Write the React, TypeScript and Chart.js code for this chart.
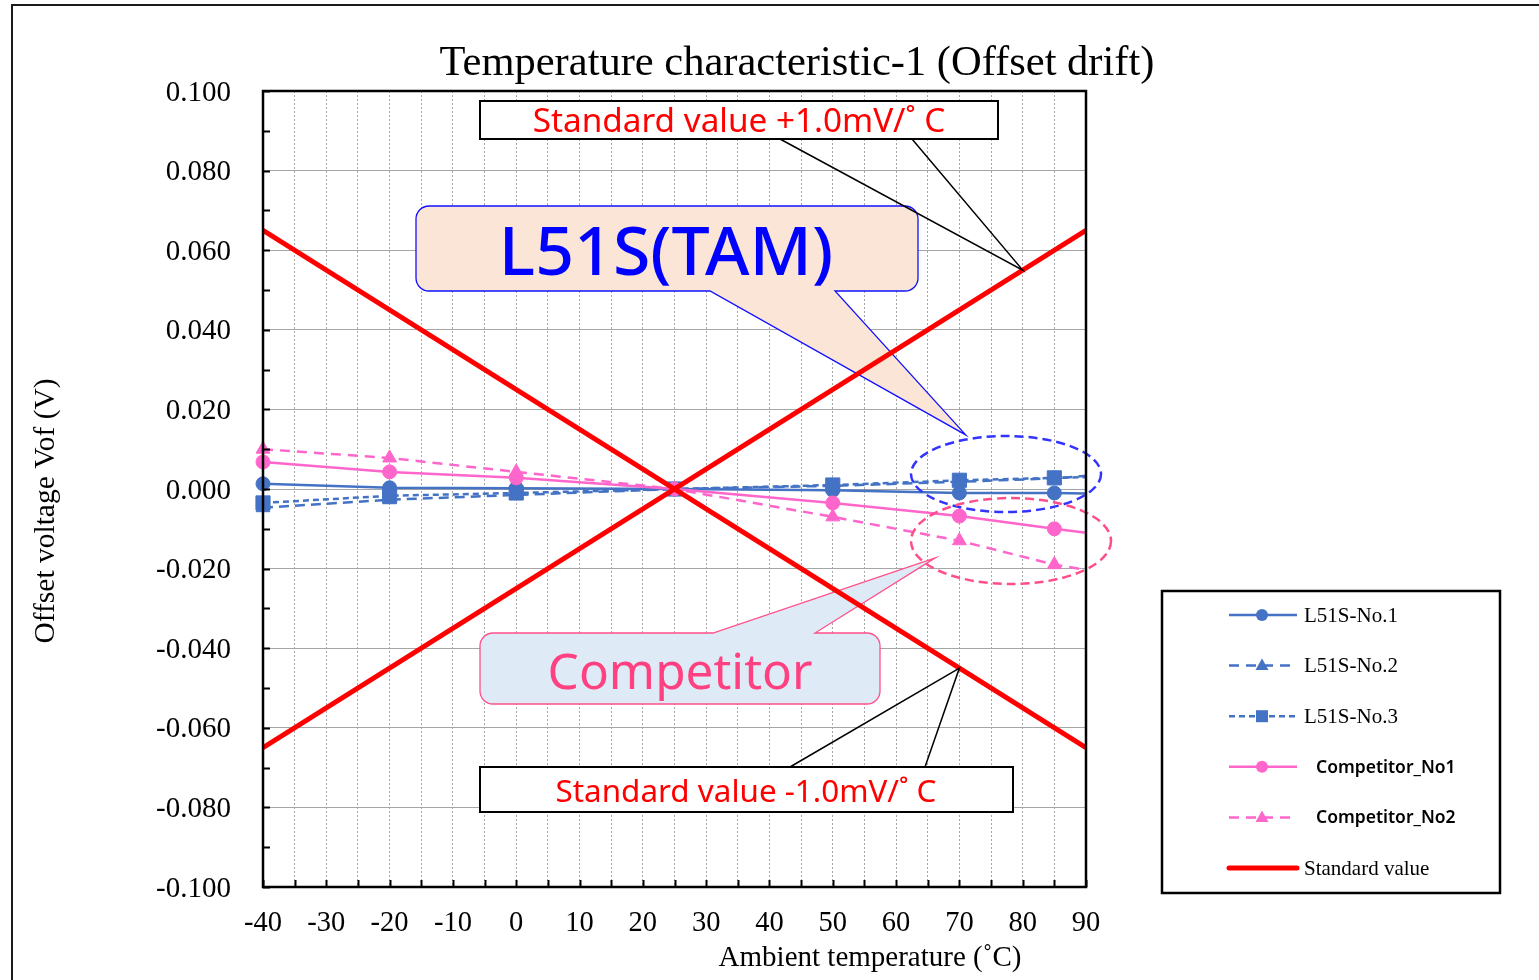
import React, { useEffect, useRef } from "react";
import { Chart, registerables } from "chart.js";

Chart.register(...registerables);

// ---------- data ----------
const temps = [-40, -20, 0, 25, 50, 70, 85, 90];
const l51sNo1 = [0.0013, 0.0003, 0.0002, 0, -0.0003, -0.001, -0.001, -0.0011];
const l51sNo2 = [-0.0047, -0.0027, -0.0015, 0, 0.0008, 0.0018, 0.0027, 0.0033];
const l51sNo3 = [-0.0035, -0.0017, -0.001, 0, 0.001, 0.0022, 0.0028, 0.003];
const competitorNo1 = [0.0068, 0.0043, 0.0028, 0, -0.0035, -0.0068, -0.01, -0.011];
const competitorNo2 = [0.01, 0.0078, 0.0043, 0, -0.007, -0.013, -0.019, -0.0203];
const stdX = [-40, 90];
const stdPlus = [-0.065, 0.065];
const stdMinus = [0.065, -0.065];

const titleText = "Temperature characteristic-1 (Offset drift)";
const xTitle = "Ambient temperature (˚C)";
const yTitle = "Offset voltage Vof (V)";
const seriesNames = ["L51S-No.1", "L51S-No.2", "L51S-No.3", "Competitor_No1", "Competitor_No2", "Standard value"];
const stdPlusLabel = "Standard value +1.0mV/˚ C";
const stdMinusLabel = "Standard value -1.0mV/˚ C";
const tamLabel = "L51S(TAM)";
const compLabel = "Competitor";

const BLUE = "#4472C4";
const PINK = "#FF66CC";
const RED = "#FF0000";
const SERIF = "'Liberation Serif', 'Times New Roman', serif";
const SANS = "'Noto Sans', 'DejaVu Sans', sans-serif";

const pts = (ys: number[]) => temps.map((t, i) => ({ x: t, y: ys[i] }));
const radii = (r: number) => temps.map((t) => (t === 90 ? 0 : r));

function drawMarker(ctx: CanvasRenderingContext2D, style: string, x: number, y: number, color: string) {
  ctx.save();
  ctx.fillStyle = color;
  ctx.beginPath();
  if (style === "circle") {
    ctx.arc(x, y, 6, 0, Math.PI * 2);
  } else if (style === "triangle") {
    ctx.moveTo(x, y - 7);
    ctx.lineTo(x + 6.5, y + 4.5);
    ctx.lineTo(x - 6.5, y + 4.5);
    ctx.closePath();
  } else if (style === "rect") {
    ctx.rect(x - 6, y - 6, 12, 12);
  }
  ctx.fill();
  ctx.restore();
}

function calloutPath(
  ctx: CanvasRenderingContext2D,
  x1: number, y1: number, x2: number, y2: number, r: number,
  a: number, b: number, tx: number, ty: number, side: "top" | "bottom"
) {
  ctx.beginPath();
  ctx.moveTo(x1 + r, y1);
  if (side === "top") {
    ctx.lineTo(a, y1);
    ctx.lineTo(tx, ty);
    ctx.lineTo(b, y1);
  }
  ctx.lineTo(x2 - r, y1);
  ctx.arcTo(x2, y1, x2, y1 + r, r);
  ctx.lineTo(x2, y2 - r);
  ctx.arcTo(x2, y2, x2 - r, y2, r);
  if (side === "bottom") {
    ctx.lineTo(b, y2);
    ctx.lineTo(tx, ty);
    ctx.lineTo(a, y2);
  }
  ctx.lineTo(x1 + r, y2);
  ctx.arcTo(x1, y2, x1, y2 - r, r);
  ctx.lineTo(x1, y1 + r);
  ctx.arcTo(x1, y1, x1 + r, y1, r);
  ctx.closePath();
}

const decorPlugin = {
  id: "decor",
  beforeDraw(chart: any) {
    const ctx = chart.ctx as CanvasRenderingContext2D;
    ctx.save();
    ctx.fillStyle = "#ffffff";
    ctx.fillRect(0, 0, chart.width, chart.height);
    ctx.restore();
  },
  beforeDatasetsDraw(chart: any) {
    const ctx = chart.ctx as CanvasRenderingContext2D;
    const xs = chart.scales.x;
    const ys = chart.scales.y;
    ctx.save();
    // L51S(TAM) callout
    const t1x = xs.getPixelForValue(71), t1y = ys.getPixelForValue(0.0136);
    calloutPath(ctx, 416, 206, 918, 291, 13, 710, 835, t1x, t1y, "bottom");
    ctx.fillStyle = "#FBE5D6";
    ctx.fill();
    ctx.strokeStyle = "#1010FF";
    ctx.lineWidth = 1.3;
    ctx.stroke();
    ctx.fillStyle = "#0000FF";
    ctx.font = `500 68px ${SANS}`;
    ctx.textAlign = "center";
    ctx.textBaseline = "middle";
    ctx.fillText(tamLabel, 666, 256);

    // Competitor callout
    const t2x = xs.getPixelForValue(66.2), t2y = ys.getPixelForValue(-0.0173);
    calloutPath(ctx, 480, 633, 880, 704, 13, 713, 815, t2x, t2y, "top");
    ctx.fillStyle = "#DEEBF7";
    ctx.fill();
    ctx.strokeStyle = "#FF4F8B";
    ctx.lineWidth = 1.3;
    ctx.stroke();
    ctx.fillStyle = "#FF4081";
    ctx.font = `49.5px ${SANS}`;
    ctx.fillText(compLabel, 680, 675);
    ctx.restore();
  },
  afterDatasetsDraw(chart: any) {
    const ctx = chart.ctx as CanvasRenderingContext2D;
    const ca = chart.chartArea;
    const xs = chart.scales.x;
    const ys = chart.scales.y;
    ctx.save();

    // ellipses
    ctx.setLineDash([9, 5]);
    ctx.lineWidth = 2.5;
    ctx.strokeStyle = "#3333FF";
    ctx.beginPath();
    ctx.ellipse(1006, 474, 95, 38, 0, 0, Math.PI * 2);
    ctx.stroke();
    ctx.strokeStyle = "#FF4F8B";
    ctx.beginPath();
    ctx.ellipse(1011, 541, 100, 43, 0, 0, Math.PI * 2);
    ctx.stroke();
    ctx.setLineDash([]);

    // standard value callouts
    const drawStd = (x1: number, y1: number, x2: number, y2: number, a: number, b: number, tx: number, ty: number, label: string, top: boolean, cx: number, cy: number, fs: number) => {
      ctx.fillStyle = "#ffffff";
      ctx.fillRect(x1, y1, x2 - x1, y2 - y1);
      ctx.strokeStyle = "#000000";
      ctx.lineWidth = 2;
      ctx.strokeRect(x1, y1, x2 - x1, y2 - y1);
      ctx.lineWidth = 1.5;
      const by = top ? y2 : y1;
      ctx.beginPath();
      ctx.moveTo(a, by);
      ctx.lineTo(tx, ty);
      ctx.lineTo(b, by);
      ctx.stroke();
      ctx.fillStyle = RED;
      ctx.font = `${fs}px ${SANS}`;
      ctx.textAlign = "center";
      ctx.textBaseline = "middle";
      ctx.fillText(label, cx, cy);
    };
    drawStd(480, 101, 998, 139, 780, 912, xs.getPixelForValue(80), ys.getPixelForValue(0.055), stdPlusLabel, true, 739, 123, 33.3);
    drawStd(480, 767, 1013, 812, 790, 925, xs.getPixelForValue(70), ys.getPixelForValue(-0.045), stdMinusLabel, false, 746, 793, 31.4);

    // plot frame
    ctx.strokeStyle = "#000000";
    ctx.lineWidth = 2.5;
    ctx.strokeRect(ca.left, ca.top, ca.right - ca.left, ca.bottom - ca.top);
    // inward ticks
    ctx.lineWidth = 2;
    ctx.beginPath();
    for (let v = -40; v <= 90; v += 5) {
      const px = Math.round(xs.getPixelForValue(v)) + 0.5;
      ctx.moveTo(px, ca.bottom);
      ctx.lineTo(px, ca.bottom - 7);
    }
    for (let i = 0; i <= 20; i++) {
      const py = Math.round(ys.getPixelForValue(-0.1 + i * 0.01)) + 0.5;
      ctx.moveTo(ca.left, py);
      ctx.lineTo(ca.left + 7, py);
    }
    ctx.stroke();

    // title & axis titles
    ctx.fillStyle = "#000000";
    ctx.textAlign = "center";
    ctx.textBaseline = "middle";
    ctx.font = `42.5px ${SERIF}`;
    ctx.fillText(titleText, 797, 64);
    ctx.font = `29px ${SERIF}`;
    ctx.fillText(xTitle, 870, 958);
    ctx.save();
    ctx.translate(46, 511);
    ctx.rotate(-Math.PI / 2);
    ctx.font = `29.5px ${SERIF}`;
    ctx.fillText(yTitle, 0, 0);
    ctx.restore();

    // legend
    ctx.lineWidth = 2.5;
    ctx.strokeStyle = "#000000";
    ctx.strokeRect(1162, 591, 338, 302);
    const legendRows = [
      { color: BLUE, dash: [], marker: "circle", w: 2.5, font: `21px ${SERIF}`, tx: 1304 },
      { color: BLUE, dash: [10, 7], marker: "triangle", w: 2.5, font: `21px ${SERIF}`, tx: 1304 },
      { color: BLUE, dash: [6, 4], marker: "rect", w: 2.5, font: `21px ${SERIF}`, tx: 1304 },
      { color: PINK, dash: [], marker: "circle", w: 2.5, font: `600 17.5px ${SANS}`, tx: 1316 },
      { color: PINK, dash: [10, 7], marker: "triangle", w: 2.5, font: `600 17.5px ${SANS}`, tx: 1316 },
      { color: RED, dash: [], marker: "", w: 5, font: `21px ${SERIF}`, tx: 1304 },
    ];
    legendRows.forEach((row, i) => {
      const y = 615 + i * 50.6;
      ctx.save();
      ctx.strokeStyle = row.color;
      ctx.lineWidth = row.w;
      ctx.lineCap = row.marker ? "butt" : "round";
      ctx.setLineDash(row.dash);
      ctx.beginPath();
      ctx.moveTo(1229, y);
      ctx.lineTo(1297, y);
      ctx.stroke();
      ctx.restore();
      if (row.marker) drawMarker(ctx, row.marker, 1262, y, row.color);
      ctx.fillStyle = "#000000";
      ctx.textAlign = "left";
      ctx.textBaseline = "middle";
      ctx.font = row.font;
      ctx.fillText(seriesNames[i], row.tx, y + 1);
    });

    // outer frame
    ctx.strokeStyle = "#1a1a1a";
    ctx.lineWidth = 2;
    ctx.strokeRect(12, 5, 1700, 1200);
    ctx.restore();
  },
};

export default function App() {
  const ref = useRef<HTMLCanvasElement | null>(null);
  useEffect(() => {
    if (!ref.current) return;
    const mk = (label: string, ys: number[], color: string, style: string, r: number, dash: number[], w: number) => ({
      label,
      data: pts(ys),
      borderColor: color,
      backgroundColor: color,
      pointBackgroundColor: color,
      pointBorderColor: color,
      pointBorderWidth: 1,
      pointStyle: style,
      pointRadius: radii(r),
      borderWidth: w,
      borderDash: dash,
      tension: 0,
      clip: false as any,
    });
    const chart = new Chart(ref.current, {
      type: "line",
      data: {
        datasets: [
          {
            label: seriesNames[5],
            data: stdX.map((x, i) => ({ x, y: stdPlus[i] })),
            borderColor: RED,
            borderWidth: 5,
            pointRadius: 0,
          },
          {
            label: seriesNames[5] + " ",
            data: stdX.map((x, i) => ({ x, y: stdMinus[i] })),
            borderColor: RED,
            borderWidth: 5,
            pointRadius: 0,
          },
          mk(seriesNames[3], competitorNo1, PINK, "circle", 7, [], 2.5),
          mk(seriesNames[4], competitorNo2, PINK, "triangle", 8, [10, 7], 2.5),
          mk(seriesNames[0], l51sNo1, BLUE, "circle", 7, [], 2.5),
          mk(seriesNames[1], l51sNo2, BLUE, "triangle", 8, [10, 6], 2.5),
          mk(seriesNames[2], l51sNo3, BLUE, "rect", 10, [6, 4], 2.5),
        ] as any,
      },
      options: {
        animation: false,
        responsive: false,
        devicePixelRatio: 1,
        layout: { padding: { left: 0, top: 91, right: 453, bottom: 0 } },
        plugins: { legend: { display: false }, title: { display: false }, tooltip: { enabled: false } },
        scales: {
          x: {
            type: "linear",
            min: -40,
            max: 90,
            afterFit: (s: any) => { s.height = 93; },
            ticks: {
              stepSize: 5,
              autoSkip: false,
              maxRotation: 0,
              padding: 19,
              color: "#000000",
              font: { family: SERIF, size: 28.5 },
              callback: (v: any) => (Math.round(v) % 10 === 0 ? String(Math.round(v)) : ""),
            },
            grid: { color: "#A6A6A6", lineWidth: 1, drawTicks: false },
            border: { display: false, dash: [2, 2] },
          },
          y: {
            type: "linear",
            min: -0.1,
            max: 0.1,
            afterFit: (s: any) => { s.width = 263; },
            ticks: {
              stepSize: 0.01,
              padding: 32,
              labelOffset: 2,
              color: "#000000",
              font: { family: SERIF, size: 29 },
              callback: (v: any, i: number) => (i % 2 === 0 ? Number(v).toFixed(3) : ""),
            },
            grid: {
              color: (c: any) => (c.index % 2 === 0 ? "#A6A6A6" : "rgba(0,0,0,0)"),
              lineWidth: 1,
              drawTicks: false,
            },
            border: { display: false },
          },
        },
      } as any,
      plugins: [decorPlugin],
    });
    return () => chart.destroy();
  }, []);
  return (
    <div style={{ position: "fixed", left: 0, top: 0, width: 1539, height: 980 }}>
      <canvas ref={ref} width={1539} height={980} style={{ width: 1539, height: 980, display: "block" }} />
    </div>
  );
}
